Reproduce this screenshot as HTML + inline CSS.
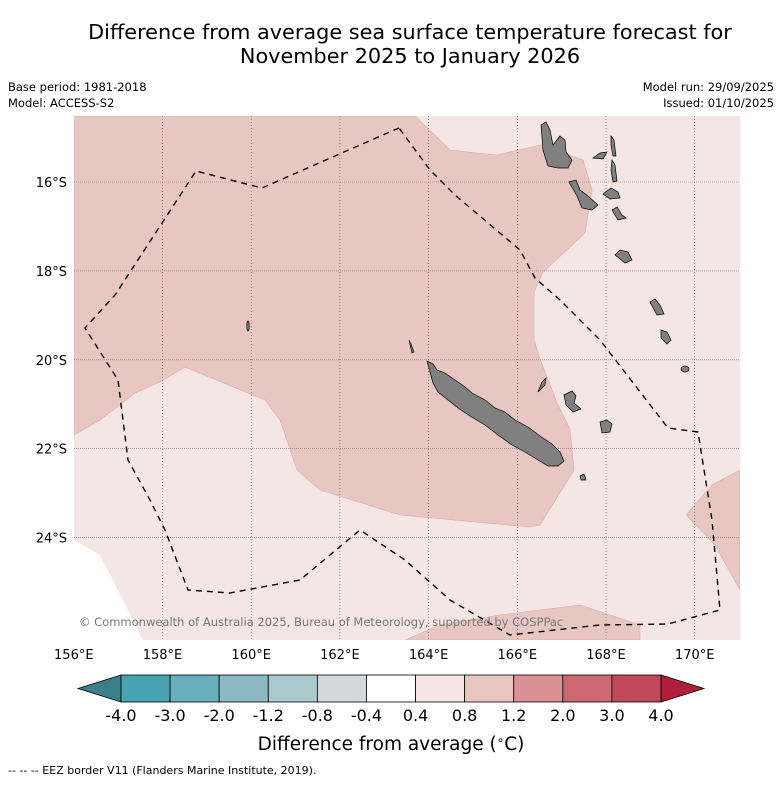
<!DOCTYPE html>
<html><head><meta charset="utf-8"><style>
body{margin:0;background:#fff;font-family:"DejaVu Sans","Liberation Sans",sans-serif;}
svg text{font-family:"DejaVu Sans","Liberation Sans",sans-serif;}
</style></head><body>
<svg id="chart" width="781" height="781" viewBox="0 0 781 781">
<text x="410" y="39" font-size="20.8" text-anchor="middle">Difference from average sea surface temperature forecast for</text>
<text x="410" y="63" font-size="20.8" text-anchor="middle">November 2025 to January 2026</text>
<text x="8" y="91" font-size="11.5">Base period: 1981-2018</text>
<text x="8" y="107" font-size="11.5">Model: ACCESS-S2</text>
<text x="774" y="91" font-size="11.5" text-anchor="end">Model run: 29/09/2025</text>
<text x="774" y="107" font-size="11.5" text-anchor="end">Issued: 01/10/2025</text>
<defs><clipPath id="mapclip"><rect x="74" y="116" width="666" height="524"/></clipPath></defs>
<g clip-path="url(#mapclip)">
<rect x="74" y="116" width="666" height="524" fill="#f4e6e5"/>
<polygon points="74,540 100,555 143,640 74,640" fill="#fff"/>
<polygon points="74,116 415,116 450,150 497,155 540,145 583,160 592,190 585,233 543,272 534,292 534,340 540,359 557,403 570,429 574,470 540,525 530,527 400,515 320,490 297,470 280,420 265,400 185,367 160,382 135,393 100,420 74,435" fill="#e8c7c3" stroke="#d9aaa6" stroke-width="0.6"/>
<polygon points="740,470 712,485 686,515 715,545 740,590" fill="#e8c7c3" stroke="#d9aaa6" stroke-width="0.6"/>
<polygon points="405,640 440,625 500,615 580,605 640,625 640,640" fill="#e8c7c3" stroke="#d9aaa6" stroke-width="0.6"/>
<g id="grid"></g>
<g fill="#808080" stroke="#000" stroke-width="0.7">
<polygon points="427,361 433,364 437,370 445,373 455,380 465,387 472,393 485,400 495,408 505,412 515,420 528,427 540,436 552,444 560,452 564,461 558,466 548,466 538,460 525,452 512,445 498,435 485,425 470,416 458,408 448,400 438,392 433,383 430,372"/>
<polygon points="541,125 546,122 550,130 553,145 560,136 565,140 566,152 572,160 568,168 558,168 548,166 543,150"/>
<polygon points="569,182 576,180 580,190 588,196 598,205 592,210 582,208 577,196"/>
<polygon points="593,158 600,153 607,152 603,159"/>
<polygon points="611,136 614,140 616,156 613,156 611,145"/>
<polygon points="612,160 615,165 617,181 613,182 611,170"/>
<polygon points="603,194 611,188 618,192 620,198 610,199"/>
<polygon points="612,210 617,207 622,215 626,218 618,220"/>
<polygon points="615,255 620,250 628,252 632,260 625,263"/>
<polygon points="650,302 655,299 660,305 664,314 657,315"/>
<polygon points="661,330 667,332 671,340 667,344 661,338"/>
<ellipse cx="685" cy="369" rx="4" ry="3"/>
<polygon points="564,395 572,391 576,396 574,403 581,409 573,412 566,405"/>
<polygon points="600,422 607,420 612,424 610,432 602,433"/>
<polygon points="542,382 546,378 545,385 538,392"/>
<polygon points="580,476 584,474 586,480 581,480"/>
<ellipse cx="248" cy="326" rx="1.2" ry="5"/>
<polygon points="409,340 411,344 414,352 412,353"/>
</g>
<polyline points="399,128 360,145 262,188 196,171 115,295 85,328 118,380 128,460 150,500 165,530 188,590 230,593 300,580 360,530 405,560 450,600 510,635 600,625 668,624 720,610 712,520 698,432 668,428 600,340 560,300 535,278 520,250 455,195 430,170 399,128" fill="none" stroke="#000" stroke-width="1.4" stroke-dasharray="6,5"/>
<text x="79" y="626" font-size="11.5" fill="#777">© Commonwealth of Australia 2025, Bureau of Meteorology, supported by COSPPac</text>
</g>
<g id="ticks"></g>
<g id="cbar"></g>
<text x="391" y="750" font-size="18.5" text-anchor="middle">Difference from average (<tspan dy="-6" font-size="12">∘</tspan><tspan dy="6">C)</tspan></text>
<text x="8" y="774" font-size="11">--  --  -- EEZ border V11 (Flanders Marine Institute, 2019).</text>
</svg>
<script>
const lonTicks=[156,158,160,162,164,166,168,170];
const latTicks=[16,18,20,22,24];
const cbLevels=[-4.0,-3.0,-2.0,-1.2,-0.8,-0.4,0.4,0.8,1.2,2.0,3.0,4.0];
const cbColors=["#47a2b2","#69aebb","#8cb9c4","#aac9cd","#d3d8da","#ffffff","#f4e6e5","#e8c7c3","#d99196","#cc6871","#c14859"];
const NS="http://www.w3.org/2000/svg";
const X=lon=>73.8+(lon-156)*44.35;
const Y=lat=>182+(lat-16)*44.45;
function mk(tag,attrs,parent){const e=document.createElementNS(NS,tag);for(const k in attrs)e.setAttribute(k,attrs[k]);parent.appendChild(e);return e;}
const grid=document.getElementById('grid'),ticks=document.getElementById('ticks'),cb=document.getElementById('cbar');
lonTicks.forEach(l=>{
 if(l>156){const g=mk('line',{x1:X(l),x2:X(l),y1:116,y2:640,stroke:'#555','stroke-width':0.6,'stroke-dasharray':'1,2'},grid);
 
 }
 const t=mk('text',{x:X(l),y:659,'font-size':13,'text-anchor':'middle'},ticks);t.textContent=l+'°E';
 
 
});
latTicks.forEach(l=>{
 const g=mk('line',{x1:74,x2:740,y1:Y(l),y2:Y(l),stroke:'#8a6a6a','stroke-width':0.6,'stroke-dasharray':'1,1'},grid);
 
 
 const t=mk('text',{x:67,y:Y(l)+5,'font-size':13,'text-anchor':'end'},ticks);t.textContent=l+'°S';
 
 
});
const cx0=121,cx1=661,cy0=675,cy1=702,n=cbLevels.length-1,w=(cx1-cx0)/n;
const lt=mk('polygon',{points:`${cx0},${cy0} 78,${(cy0+cy1)/2} ${cx0},${cy1}`,fill:'#3a7f8a',stroke:'#000','stroke-width':0.8},cb);


const rt=mk('polygon',{points:`${cx1},${cy0} 704,${(cy0+cy1)/2} ${cx1},${cy1}`,fill:'#b01e3a',stroke:'#000','stroke-width':0.8},cb);


for(let i=0;i<n;i++){
 const r=mk('rect',{x:cx0+i*w,y:cy0,width:w,height:cy1-cy0,fill:cbColors[i],stroke:'#000','stroke-width':0.8},cb);
 
 
}
cbLevels.forEach((v,i)=>{
 const t=mk('text',{x:cx0+i*w,y:721,'font-size':16,'text-anchor':'middle'},cb);t.textContent=v.toFixed(1);
 
 
});
</script>
</body></html>
